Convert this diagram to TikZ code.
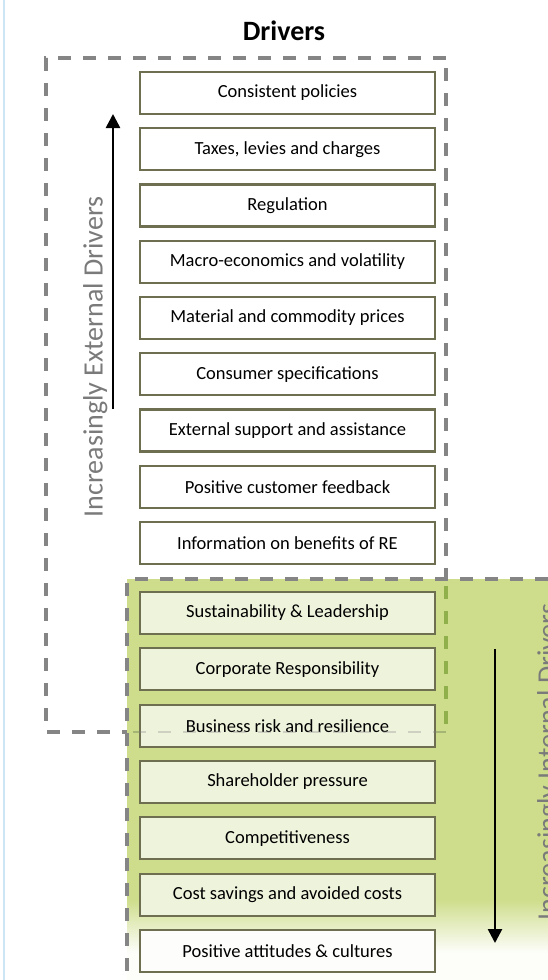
\documentclass[tikz,border=0pt]{standalone}
\usepackage{fontspec}
\setmainfont{Carlito}
\usetikzlibrary{arrows.meta}
\definecolor{boxline}{HTML}{6E6E50}
\definecolor{dashgray}{HTML}{858585}
\definecolor{grnbg}{HTML}{CEDD8B}
\definecolor{grnbox}{HTML}{EEF3DC}
\definecolor{grndash}{HTML}{8FB04A}
\definecolor{grndashlight}{HTML}{B3CB6C}
\definecolor{labgray}{HTML}{7A7A7A}
\definecolor{edgeblue}{HTML}{CDE6F5}
\tikzset{
  drvbox/.style={draw=boxline, line width=2.2pt, minimum width=295pt, minimum height=42pt,
    inner sep=0pt, font=\fontsize{18.5}{22}\selectfont, text=black},
  extbox/.style={drvbox, fill=white},
  intbox/.style={drvbox, fill=grnbox},
  dashline/.style={draw=dashgray, line width=3.4pt, dash pattern=on 13pt off 12pt},
  sidelab/.style={rotate=90, anchor=north, inner sep=0pt, text=labgray, font=\fontsize{28}{32}\selectfont},
  bigarrow/.style={draw=black, line width=2.6pt, -{Triangle[length=14pt,width=14pt]}}
}
\begin{document}
\begin{tikzpicture}[x=1pt,y=-1pt]
\useasboundingbox (0,0) rectangle (548,980);
\fill[white] (0,0) rectangle (548,980);
% left blue edge
\draw[edgeblue, line width=2pt] (4,0) -- (4,980);
% title
\node[font=\bfseries\fontsize{28}{32}\selectfont] (title) at (284,31) {Drivers};
% external dashed region corners
\coordinate (xtl) at (46,58);
\coordinate (xtr) at (446,58);
\coordinate (xbr) at (446,732);
\coordinate (xbl) at (46,732);
\draw[dashline] (xtr) -- (xtl) -- (xbl) -- (xbr) -- cycle;
% internal green region
\fill[grnbg] (127,579) rectangle (548,900);
\shade[top color=grnbg, bottom color=white] (127,899) rectangle (548,955);
\fill[white!96!grnbg] (127,954) rectangle (548,980);
% parts of external box inside green region
\draw[grndash, line width=3.2pt, dash pattern=on 13pt off 12pt] (446,586) -- (xbr);
\draw[grndashlight, line width=2.6pt, dash pattern=on 13pt off 12pt] (xbr) -- (131,732);
% internal dashed border (top and left)
\draw[dashline] (548,579) -- (127,579) -- (127,980);
% external boxes
\foreach \t [count=\i from 0] in {Consistent policies,Taxes{,} levies and charges,Regulation,Macro-economics and volatility,Material and commodity prices,Consumer specifications,External support and assistance,Positive customer feedback,Information on benefits of RE}{
  \node[extbox] (e\i) at (287.5,{93+56.25*\i}) {\t};
}
% internal boxes
\foreach \t [count=\i from 0] in {Sustainability \& Leadership,Corporate Responsibility,Business risk and resilience,Shareholder pressure,Competitiveness,Cost savings and avoided costs}{
  \node[intbox] (n\i) at (287.5,{613+56.33*\i}) {\t};
}
\node[drvbox, fill=white!90!grnbox] (n6) at (287.5,{613+56.33*6}) {Positive attitudes \& cultures};
% faint trace of the external border across the box
\draw[dashgray, opacity=0.3, line width=2.6pt, dash pattern=on 13pt off 12pt] (xbr) -- (131,732);
% side labels
\node[sidelab] (extlab) at (83,357) {Increasingly External Drivers};
\node[sidelab] (intlab) at (537,762) {Increasingly Internal Drivers};
% arrows
\coordinate (ea0) at (113,409);
\coordinate (ea1) at (113,114);
\coordinate (ia0) at (495,649);
\coordinate (ia1) at (495,943);
\draw[bigarrow] (ea0) -- (ea1);
\draw[bigarrow] (ia0) -- (ia1);
\end{tikzpicture}
\end{document}
